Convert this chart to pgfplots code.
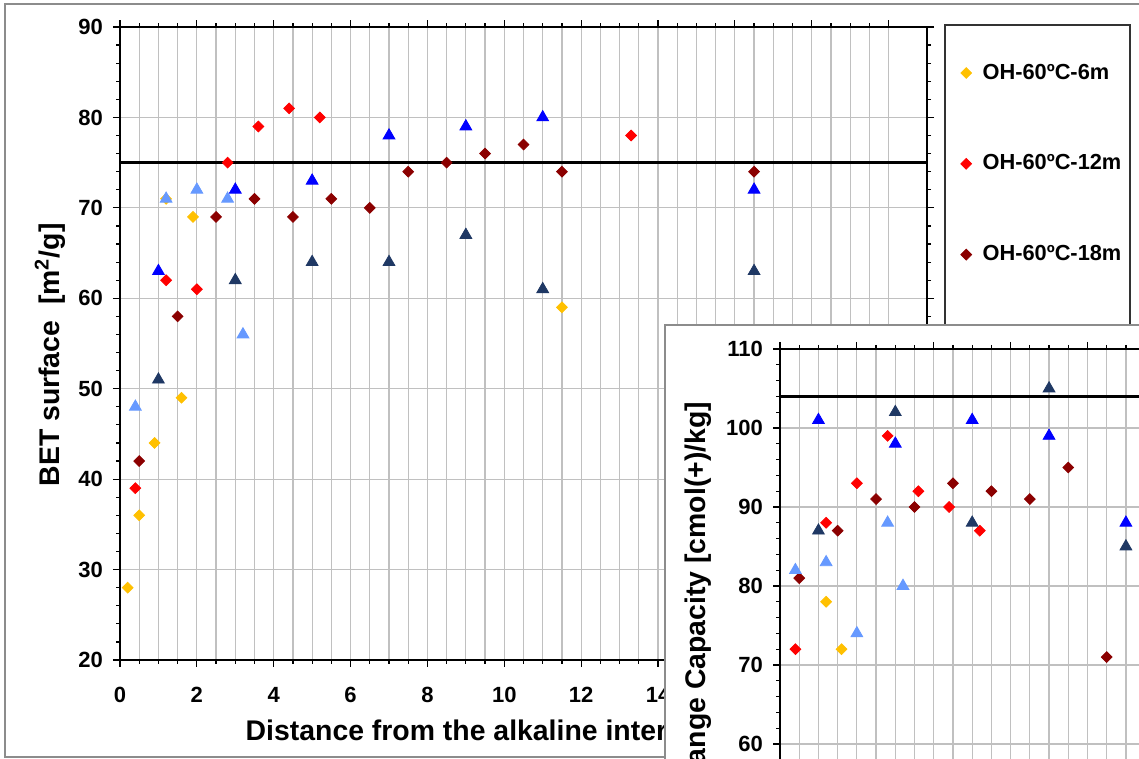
\documentclass[border=0pt]{standalone}
\usepackage{pgfplots}
\pgfplotsset{compat=1.18}
\usepackage{fontspec}
\setmainfont{Liberation Sans}
\definecolor{cYel}{HTML}{FFC000}
\definecolor{cRed}{HTML}{FF0000}
\definecolor{cDRed}{HTML}{8B0000}
\definecolor{cBlue}{HTML}{0000FF}
\definecolor{cLBlue}{HTML}{6699FF}
\definecolor{cNavy}{HTML}{1F3864}
\definecolor{cGrid}{HTML}{C0C0C0}
\definecolor{cFrame}{HTML}{8C8C8C}
\pgfplotsset{
  common/.style={
    scale only axis,
    axis line style={black, line width=0.6pt},
    tick style={black, line width=0.6pt},
    tick align=outside,
    major tick length=3.5pt,
    minor tick length=2pt,
    grid style={cGrid, line width=0.6pt},
    ticklabel style={font=\bfseries\fontsize{11}{13}\selectfont},
    /pgf/number format/assume math mode=true,
    label style={font=\bfseries\fontsize{14.2}{17}\selectfont},
    yticklabel style={xshift=-1.5pt},
  },
  dia/.style={color=#1, only marks, mark=square*, mark size=1.9pt, mark options={rotate=45}},
  tri/.style={color=#1, only marks, mark=triangle*, mark size=3.4pt},
}
\begin{document}
\begin{tikzpicture}
\useasboundingbox (0,0) rectangle (569.5pt,379.5pt);
\clip (0,0) rectangle (569.5pt,379.5pt);
\draw[cFrame, line width=0.6pt] (2.5pt,1pt) rectangle (620pt,377.5pt);
\begin{axis}[common, at={(60pt,49.5pt)}, anchor=south west,
  width=403.5pt, height=316.5pt,
  xmin=0, xmax=21, ymin=20, ymax=90,
  xtick={0,2,...,20}, minor x tick num=3,
  ytick={20,30,...,90}, minor y tick num=4,
  xmajorgrids, xminorgrids, ymajorgrids,
  xlabel={Distance from the alkaline interface [mm]},
  ylabel={BET surface\ \ [m\textsuperscript{2}/g]},
  xlabel style={at={(axis description cs:0.5,-0.1153)}, anchor=center},
  ylabel style={at={(axis description cs:-0.0867,0.482)}, anchor=center},
  xticklabel style={yshift=-6.5pt},
  legend style={at={(axis description cs:1.034,0.955)}, anchor=north west,
    draw=none, fill=none, font=\bfseries\fontsize{10.9}{13}\selectfont,
    row sep=32.3pt, column sep=3.5pt},
  legend cell align=left,
]
\addplot[black, line width=1.5pt, forget plot] coordinates {(0,75) (21,75)};
\addplot[dia=cYel] coordinates {(0.2,28) (0.5,36) (0.9,44) (1.2,71) (1.6,49) (1.9,69) (11.5,59)};
\addlegendentry{OH-60ºC-6m}
\addplot[dia=cRed] coordinates {(0.4,39) (1.2,62) (2.0,61) (2.8,75) (3.6,79) (4.4,81) (5.2,80) (13.3,78)};
\addlegendentry{OH-60ºC-12m}
\addplot[dia=cDRed] coordinates {(0.5,42) (1.5,58) (2.5,69) (3.5,71) (4.5,69) (5.5,71) (6.5,70) (7.5,74) (8.5,75) (9.5,76) (10.5,77) (11.5,74) (16.5,74)};
\addlegendentry{OH-60ºC-18m}
\addplot[tri=cBlue, forget plot] coordinates {(1,63) (3,72) (5,73) (7,78) (9,79) (11,80) (16.5,72)};
\addplot[tri=cLBlue, forget plot] coordinates {(0.4,48) (1.2,71) (2,72) (2.8,71) (3.2,56)};
\addplot[tri=cNavy, forget plot] coordinates {(1,51) (3,62) (5,64) (7,64) (9,67) (11,61) (16.5,63)};
\end{axis}
\draw[black!80, line width=0.6pt] (472.5pt,367pt) rectangle (565pt,60pt);
\draw[cFrame, fill=white, line width=0.6pt] (332.5pt,217pt) rectangle (620pt,-20pt);
\begin{axis}[common, at={(390pt,205pt)}, anchor=north west,
  width=230.6pt, height=316pt,
  xmin=0, xmax=12, ymin=30, ymax=110,
  xtick={0,2,...,12}, minor x tick num=3, xticklabels={},
  ytick={60,70,...,110}, minor y tick num=4,
  extra y ticks={30,40,50}, extra y tick labels={},
  xmajorgrids, xminorgrids, ymajorgrids,
  ylabel={Cation Exchange Capacity [cmol(+)/kg]},
  ylabel style={at={(axis description cs:-0.178,0.5)}, anchor=center},
]
\addplot[black, line width=1.5pt] coordinates {(0,104) (12,104)};
\addplot[dia=cYel] coordinates {(1.2,78) (1.6,72)};
\addplot[dia=cRed] coordinates {(0.4,72) (1.2,88) (2.0,93) (2.8,99) (3.6,92) (4.4,90) (5.2,87)};
\addplot[dia=cDRed] coordinates {(0.5,81) (1.5,87) (2.5,91) (3.5,90) (4.5,93) (5.5,92) (6.5,91) (7.5,95) (8.5,71)};
\addplot[tri=cBlue] coordinates {(1,101) (3,98) (5,101) (7,99) (9,88)};
\addplot[tri=cLBlue] coordinates {(0.4,82) (1.2,83) (2,74) (2.8,88) (3.2,80)};
\addplot[tri=cNavy] coordinates {(1,87) (3,102) (5,88) (7,105) (9,85)};
\end{axis}
\end{tikzpicture}
\end{document}
